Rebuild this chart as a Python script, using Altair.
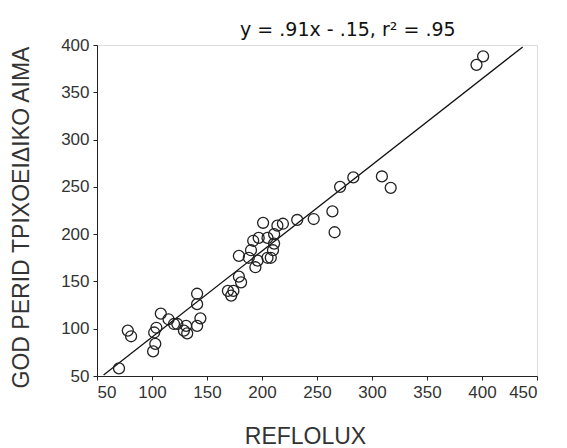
import altair as alt
import pandas as pd

# Scatter points (REFLOLUX, GOD PERID)
x_vals = [70, 78, 81, 101, 103, 102, 104, 108, 115, 120, 123, 129, 132, 131,
          141, 141, 144, 141, 169, 172, 174, 181, 179, 179, 188, 190, 192, 194,
          196, 197, 201, 205, 208, 210, 211, 211, 205, 214, 219, 232, 247, 264,
          266, 271, 283, 309, 317, 395, 401]
y_vals = [58, 98, 92, 76, 84, 96, 101, 116, 110, 105, 105, 98, 95, 103,
          126, 137, 111, 103, 140, 135, 140, 149, 155, 177, 175, 183, 193, 165,
          172, 196, 212, 175, 175, 183, 190, 200, 196, 209, 211, 215, 216, 224,
          202, 250, 260, 261, 249, 379, 388]

# Regression line endpoints
line_x = [56, 437]
line_y = [51, 398]

# Annotation
annot_text = ["y = .91x - .15, r² = .95"]
annot_x = [278]
annot_y = [416]

x_ticks = [50, 100, 150, 200, 250, 300, 350, 400, 450]
y_ticks = [50, 100, 150, 200, 250, 300, 350, 400]

pts = pd.DataFrame({"x": x_vals, "y": y_vals})
ln = pd.DataFrame({"x": line_x, "y": line_y})
ann = pd.DataFrame({"x": annot_x, "y": annot_y, "t": annot_text})

FONT = "Liberation Sans"

xscale = alt.Scale(domain=[50, 450], nice=False, zero=False)
yscale = alt.Scale(domain=[50, 400], nice=False, zero=False)

xaxis = alt.Axis(values=x_ticks, title="REFLOLUX", grid=False, tickSize=4,
                 labelFontSize=17, titleFontSize=23, titleFontWeight="normal",
                 titleFont=FONT, labelFont=FONT, labelColor="#333", titleColor="#333",
                 domainColor="#222", tickColor="#222", titlePadding=25, labelPadding=4,
                 titleX=208)
yaxis = alt.Axis(values=y_ticks, title="GOD PERID ΤΡΙΧΟΕΙΔΙΚΟ ΑΙΜΑ", grid=False,
                 tickSize=4, labelFontSize=17, titleFontSize=23, titleFontWeight="normal",
                 titleFont=FONT, labelFont=FONT, labelColor="#333", titleColor="#333",
                 domainColor="#222", tickColor="#222", titlePadding=27, labelPadding=4,
                 titleY=172)

points = alt.Chart(pts).mark_point(shape="circle", filled=False, size=120,
                                   stroke="#222", strokeWidth=1.3, opacity=1).encode(
    x=alt.X("x:Q", scale=xscale, axis=xaxis),
    y=alt.Y("y:Q", scale=yscale, axis=yaxis),
)

line = alt.Chart(ln).mark_line(color="#111", strokeWidth=1.3).encode(
    x=alt.X("x:Q", scale=xscale),
    y=alt.Y("y:Q", scale=yscale),
)

text = alt.Chart(ann).mark_text(font="DejaVu Sans", fontSize=19, color="#111",
                                align="center", baseline="middle", clip=False).encode(
    x=alt.X("x:Q", scale=xscale),
    y=alt.Y("y:Q", scale=yscale),
    text="t:N",
)

chart = alt.layer(line, points, text).properties(
    width=440, height=331,
    autosize=alt.AutoSizeParams(type="none"),
    padding={"left": 97, "top": 45, "right": 30, "bottom": 72},
).configure_view(stroke=None).configure(background="white")

chart.save("out.html", embed_options={"renderer": "svg", "actions": False})
